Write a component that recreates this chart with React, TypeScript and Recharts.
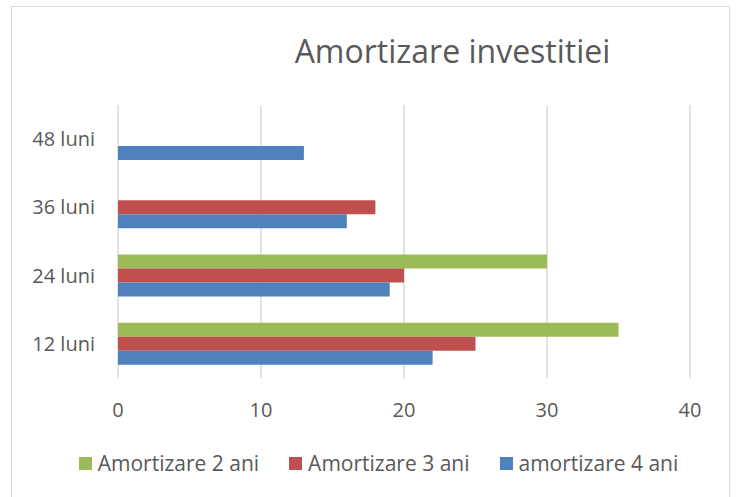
import React from 'react';
import { BarChart, Bar, XAxis, YAxis, CartesianGrid, Legend } from 'recharts';

const categories = ['48 luni', '36 luni', '24 luni', '12 luni'];
const amortizare2 = [null, null, 30, 35];
const amortizare3 = [null, 18, 20, 25];
const amortizare4 = [13, 16, 19, 22];
const xTicks = [0, 10, 20, 30, 40];

const seriesNames = ['Amortizare 2 ani', 'Amortizare 3 ani', 'amortizare 4 ani'];
const colors = ['#9BBB59', '#C0504D', '#4F81BD'];

const data = categories.map((c, i) => ({
  name: c,
  s2: amortizare2[i],
  s3: amortizare3[i],
  s4: amortizare4[i],
}));

const FONT = '"Open Sans", sans-serif';
const TEXT = '#595959';

const LegendContent = (props: any) => {
  const payload = props.payload || [];
  return (
    <div style={{ display: 'flex', justifyContent: 'center', width: 739, height: 24, paddingLeft: 18, boxSizing: 'border-box', fontFamily: FONT, fontSize: 21, color: TEXT, lineHeight: '24px' }}>
      {payload.map((p: any, i: number) => (
        <div key={i} style={{ display: 'flex', alignItems: 'center', marginRight: i < payload.length - 1 ? 30 : 0 }}>
          <div style={{ width: 13, height: 13, background: p.color, marginRight: 6 }} />
          <span>{p.value}</span>
        </div>
      ))}
    </div>
  );
};

export default function App() {
  return (
    <div style={{ position: 'absolute', left: 0, top: 0, width: 739, height: 497, background: '#fff', overflow: 'hidden' }}>
      <div style={{ position: 'absolute', left: 11, top: 6, width: 719, height: 520, border: '1.5px solid #D9D9D9', boxSizing: 'border-box' }} />
      <div style={{ position: 'absolute', left: 0, width: 739, top: 31, paddingLeft: 166, boxSizing: 'border-box', textAlign: 'center', fontFamily: FONT, fontSize: 32, color: TEXT, lineHeight: '40px', whiteSpace: 'nowrap' }}>
        Amortizare investitiei
      </div>
      <div style={{ position: 'absolute', left: 0, top: 0 }}>
        <BarChart
          width={739}
          height={497}
          data={data}
          layout="vertical"
          margin={{ top: 105, right: 49, bottom: 55, left: 18 }}
          barCategoryGap="19%"
          barGap={0}
        >
          <CartesianGrid horizontal={false} stroke="#D9D9D9" strokeWidth={1.5} />
          <XAxis
            type="number"
            domain={[0, 40]}
            ticks={xTicks}
            axisLine={false}
            tickLine={false}
            tickSize={0}
            tickMargin={25}
            height={40}
            tick={{ fill: TEXT, fontSize: 20, fontFamily: FONT }}
          />
          <YAxis
            type="category"
            dataKey="name"
            width={100}
            axisLine={false}
            tickLine={false}
            tickSize={0}
            tickMargin={23}
            tick={{ fill: TEXT, fontSize: 20, fontFamily: FONT }}
          />
          <Legend
            verticalAlign="bottom"
            content={LegendContent}
            wrapperStyle={{ left: 0, top: 451, width: 739, height: 24 }}
          />
          <Bar dataKey="s2" name={seriesNames[0]} fill={colors[0]} isAnimationActive={false} />
          <Bar dataKey="s3" name={seriesNames[1]} fill={colors[1]} isAnimationActive={false} />
          <Bar dataKey="s4" name={seriesNames[2]} fill={colors[2]} isAnimationActive={false} />
        </BarChart>
      </div>
    </div>
  );
}
